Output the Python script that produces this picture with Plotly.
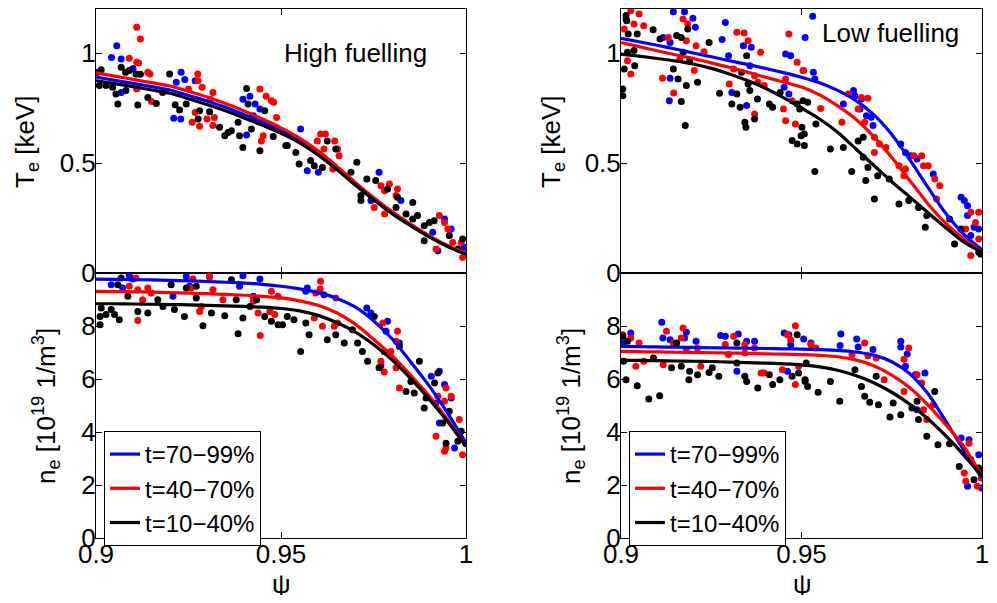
import plotly.graph_objects as go

# ---------------- data ----------------
FIT_PSI = [0.900, 0.905, 0.910, 0.915, 0.920, 0.925, 0.930, 0.935, 0.940, 0.945, 0.950,
           0.955, 0.960, 0.965, 0.970, 0.975, 0.980, 0.985, 0.990, 0.995, 1.000]

# High fuelling, Te fits [keV]
HF_TE_FIT_BLUE = [.89, .876, .862, .847, .832, .807, .782, .753, .72, .685, .647, .602, .546, .48, .408, .339, .276, .22, .168, .124, .09]
HF_TE_FIT_RED = [.91, .895, .88, .865, .85, .826, .80, .77, .737, .70, .66, .613, .555, .487, .413, .343, .279, .222, .17, .125, .09]
HF_TE_FIT_BLACK = [.874, .861, .847, .832, .817, .792, .766, .737, .705, .671, .635, .592, .537, .472, .401, .333, .27, .215, .164, .12, .085]
# Low fuelling, Te fits
LF_TE_FIT_BLUE = [1.067, 1.051, 1.035, 1.018, 1.0, .983, .965, .948, .93, .911, .89, .865, .83, .785, .72, .63, .515, .39, .27, .175, .105]
LF_TE_FIT_RED = [1.048, 1.029, 1.01, .992, .975, .955, .935, .913, .89, .868, .845, .81, .76, .70, .62, .525, .42, .315, .225, .155, .095]
LF_TE_FIT_BLACK = [.995, .986, .975, .964, .95, .93, .905, .875, .84, .797, .75, .70, .64, .565, .49, .415, .345, .275, .205, .14, .094]
# High fuelling, ne fits [1e19 m^-3]
HF_NE_FIT_BLUE = [9.77, 9.76, 9.75, 9.74, 9.72, 9.7, 9.68, 9.65, 9.62, 9.57, 9.5, 9.4, 9.26, 9.05, 8.72, 8.2, 7.52, 6.65, 5.75, 4.72, 3.58]
HF_NE_FIT_RED = [9.31, 9.3, 9.29, 9.28, 9.26, 9.24, 9.22, 9.19, 9.16, 9.12, 9.06, 8.95, 8.78, 8.5, 8.08, 7.5, 6.88, 6.15, 5.37, 4.47, 3.46]
HF_NE_FIT_BLACK = [8.84, 8.84, 8.83, 8.82, 8.81, 8.8, 8.78, 8.76, 8.74, 8.71, 8.66, 8.57, 8.4, 8.13, 7.78, 7.3, 6.72, 6.02, 5.25, 4.4, 3.46]
# Low fuelling, ne fits
LF_NE_FIT_BLUE = [7.23, 7.22, 7.21, 7.2, 7.19, 7.18, 7.17, 7.16, 7.15, 7.14, 7.13, 7.11, 7.08, 7.02, 6.9, 6.65, 6.2, 5.45, 4.4, 3.3, 2.26]
LF_NE_FIT_RED = [7.04, 7.03, 7.02, 7.01, 7.0, 6.99, 6.98, 6.965, 6.95, 6.935, 6.92, 6.89, 6.84, 6.72, 6.5, 6.15, 5.67, 5.02, 4.27, 3.45, 2.33]
LF_NE_FIT_BLACK = [6.7, 6.7, 6.69, 6.68, 6.67, 6.66, 6.64, 6.62, 6.6, 6.57, 6.53, 6.46, 6.33, 6.13, 5.86, 5.5, 5.05, 4.5, 3.85, 3.12, 2.33]

# measured points (psi, value)
HF_TE_PTS_BLUE = [(.9056, 1.033), (.9042, .979), (.9068, .973), (.910, .93), (.9068, .821), (.923, .912), (.924, .879),
                  (.9217, .867), (.921, .703), (.9229, .70), (.9268, .874), (.9397, .79), (.9416, .803), (.9425, .715),
                  (.9443, .745), (.9407, .627), (.943, .768), (.9553, .655), (.9571, .465), (.9601, .458), (.9765, .458),
                  (.9743, .329), (.9824, .329), (.9924, .101), (.9942, .245), (.996, .20), (.991, .185), (.9996, .117)]
HF_TE_PTS_RED = [(.911, 1.117), (.912, 1.064), (.909, .976), (.911, .958), (.9115, .955), (.914, .912), (.9146, .905),
                 (.915, .779), (.911, .836), (.9275, .905), (.9276, .874), (.9287, .844), (.925, .836), (.9268, .73),
                 (.926, .685), (.928, .667), (.930, .70), (.9316, .821), (.931, .79), (.9316, .67), (.932, .707),
                 (.9443, .836), (.946, .803), (.9474, .783), (.948, .776), (.9488, .707), (.9447, .60), (.9452, .624),
                 (.9607, .632), (.962, .632), (.9645, .60), (.9653, .564), (.9657, .533), (.9616, .564), (.9598, .60),
                 (.964, .473), (.977, .397), (.978, .374), (.9793, .405), (.9815, .382), (.9811, .352), (.978, .268),
                 (.9752, .298), (.9928, .261), (.9942, .23), (.9951, .20), (.9919, .109), (.9987, .139), (.9991, .071),
                 (.9964, .139)]
HF_TE_PTS_BLACK = [(.9014, .924), (.9005, .912), (.9009, .852), (.9027, .852), (.9045, .844), (.9054, .814), (.9059, .768),
                   (.9068, .935), (.908, .912), (.909, .92), (.9108, .905), (.912, .903), (.9081, .829), (.9113, .764),
                   (.914, .798), (.9163, .771), (.9199, .905), (.918, .821), (.9214, .765), (.9226, .741), (.9244, .768),
                   (.9276, .70), (.928, .738), (.9307, .733), (.9334, .662), (.9348, .624), (.9357, .639), (.9366, .647),
                   (.9388, .624), (.9397, .571), (.9407, .839), (.9411, .768), (.9443, .556), (.9456, .738), (.9479, .62),
                   (.942, .655), (.9384, .685), (.9513, .579), (.9517, .579), (.954, .548), (.9549, .495), (.958, .511),
                   (.959, .488), (.9612, .48), (.9625, .60), (.9648, .564), (.9689, .458), (.9705, .503), (.9716, .352),
                   (.9716, .329), (.9732, .427), (.9756, .42), (.9788, .382), (.9815, .344), (.9811, .298), (.9838, .268),
                   (.9856, .321), (.9856, .245), (.9869, .261), (.9887, .215), (.9887, .147), (.9901, .23), (.9914, .238),
                   (.9955, .17), (.9991, .155), (.9978, .109)]

LF_TE_PTS_BLUE = [(.9145, 1.188), (.9176, 1.188), (.9199, 1.158), (.9206, 1.117), (.9014, 1.155), (.9289, 1.139),
                  (.928, 1.061), (.9117, 1.071), (.9136, 1.048), (.9136, .885), (.9134, .783), (.9339, 1.033),
                  (.9361, 1.026), (.9298, .988), (.9357, .942), (.9307, .821), (.9348, .761), (.9456, .995),
                  (.947, .988), (.951, 1.071), (.9452, .844), (.9465, .814), (.9531, 1.167), (.9533, .912),
                  (.9537, .882), (.9644, .829), (.9648, .806), (.9616, .768), (.9662, .745), (.9666, .791),
                  (.968, .715), (.9693, .708), (.9698, .67), (.9775, .586), (.9788, .548), (.9802, .533), (.982, .518),
                  (.9865, .45), (.9942, .344), (.9951, .329), (.996, .306), (.996, .261), (.9991, .20), (.9978, .208),
                  (.9969, .17)]
LF_TE_PTS_RED = [(.9027, 1.192), (.905, 1.177), (.9036, 1.132), (.9063, 1.124), (.9009, 1.109), (.9027, .905),
                 (.9018, .965), (.9131, 1.071), (.9181, 1.056), (.9172, 1.155), (.9185, 1.132), (.9208, 1.033),
                 (.9115, .885), (.9146, .818), (.9163, .973), (.9203, .92), (.923, 1.006), (.9321, 1.094),
                 (.9341, 1.091), (.9352, 1.056), (.9387, 1.003), (.937, .897), (.930, .859), (.9312, .927),
                 (.9379, .867), (.9397, .852), (.937, .723), (.9465, 1.086), (.9488, .958), (.9506, .92), (.9456, .882),
                 (.945, .745), (.9456, .692), (.9483, .677), (.9474, .783), (.9504, .92), (.9553, .748), (.9612, .685),
                 (.963, .814), (.9666, .798), (.9684, .794), (.9657, .745), (.9675, .685), (.9702, .617), (.9716, .586),
                 (.9734, .571), (.9702, .548), (.977, .488), (.9788, .473), (.9784, .442), (.9811, .533), (.9833, .533),
                 (.9838, .488), (.9851, .488), (.9869, .427), (.9883, .397), (.9874, .336), (.9969, .276), (.9991, .276),
                 (.9982, .23), (.9969, .079), (.9991, .155), (.9955, .20)]
LF_TE_PTS_BLACK = [(.9014, 1.17), (.9016, 1.147), (.902, 1.086), (.9045, 1.086), (.9089, 1.106), (.9036, 1.011),
                   (.9018, 1.003), (.9038, .942), (.9009, .927), (.9005, .836), (.9005, .806), (.9108, 1.064),
                   (.9154, 1.079), (.9167, 1.071), (.9185, 1.109), (.9172, 1.003), (.919, .965), (.9145, .927),
                   (.9158, .882), (.9181, .852), (.9167, .779), (.9212, .867), (.9178, .67), (.9244, 1.048),
                   (.9273, .817), (.9307, .768), (.9321, .814), (.9334, .912), (.9348, .988), (.9352, .859),
                   (.9357, .829), (.933, .753), (.9343, .685), (.9346, .662), (.937, .70), (.9378, .791), (.9411, .768),
                   (.942, .753), (.9441, .821), (.9488, .768), (.9495, .745), (.9499, .624), (.9474, .602),
                   (.9488, .586), (.9508, .579), (.9501, .662), (.9504, .783), (.9517, .776), (.9508, .632),
                   (.9537, .461), (.954, .677), (.958, .564), (.9616, .571), (.9639, .461), (.9657, .60), (.9671, .617),
                   (.9671, .526), (.9684, .48), (.9678, .42), (.9702, .336), (.9711, .442), (.9743, .427), (.977, .314),
                   (.9797, .329), (.9824, .298), (.9847, .261), (.9843, .208), (.991, .245), (.9924, .132), (.9942, .20),
                   (.9991, .094), (.9996, .086)]

HF_NE_PTS_BLUE = [(.9041, 9.56), (.909, 9.9), (.9099, 9.77), (.9072, 9.43), (.9244, 9.87), (.9253, 9.5), (.9307, 9.85),
                  (.9397, 9.9), (.9388, 9.5), (.9443, 9.77), (.9425, 9.12), (.9208, 9.12), (.9571, 9.43), (.9567, 9.31),
                  (.9616, 9.18), (.9732, 8.68), (.9743, 8.49), (.9788, 8.18), (.9784, 7.8), (.982, 7.36), (.977, 6.5),
                  (.9906, 6.1), (.9928, 6.29), (.9919, 5.09), (.9928, 4.34), (.9942, 5.79), (.996, 5.28),
                  (.9969, 3.4), (.9999, 3.58)]
HF_NE_PTS_RED = [(.9108, 9.81), (.9113, 9.37), (.909, 9.5), (.914, 9.43), (.9149, 9.25), (.9126, 8.99), (.9113, 8.21),
                 (.9262, 9.77), (.9257, 9.43), (.928, 8.55), (.9285, 8.74), (.9316, 9.37), (.9307, 9.87), (.9343, 8.99),
                 (.9425, 8.93), (.9438, 8.49), (.947, 8.55), (.9483, 8.43), (.9444, 7.64), (.9474, 9.31), (.9492, 9.12),
                 (.9607, 9.69), (.9606, 9.4), (.9594, 9.25), (.959, 8.3), (.9612, 7.99), (.9648, 9.06), (.9644, 7.99),
                 (.9653, 8.11), (.9775, 8.11), (.9815, 7.8), (.9811, 7.42), (.9797, 7.04), (.977, 6.67), (.9779, 6.26),
                 (.9811, 6.42), (.982, 5.66), (.9946, 5.66), (.9924, 5.35), (.9942, 5.16), (.996, 5.35), (.9919, 3.84),
                 (.9946, 3.4), (.9942, 3.27), (.9982, 4.47), (.9991, 3.14)]
HF_NE_PTS_BLACK = [(.9014, 8.68), (.9011, 8.36), (.9011, 8.05), (.9027, 8.43), (.9041, 8.62), (.905, 8.43), (.9063, 8.24),
                   (.9059, 9.56), (.9068, 9.81), (.9086, 9.12), (.9113, 8.55), (.914, 8.49), (.9167, 8.99), (.9181, 8.74),
                   (.9212, 8.62), (.9203, 9.56), (.9244, 9.43), (.9239, 8.36), (.9271, 9.5), (.9271, 9.06),
                   (.9289, 8.01), (.9312, 8.49), (.9348, 8.39), (.9366, 9.75), (.9379, 8.99), (.9397, 8.3),
                   (.9384, 7.71), (.9416, 8.74), (.9434, 8.99), (.9456, 8.36), (.9474, 8.18), (.9492, 8.05),
                   (.9504, 8.05), (.9517, 8.36), (.9535, 8.24), (.9553, 7.04), (.9567, 8.11), (.9576, 7.67),
                   (.9625, 7.48), (.9648, 7.67), (.9671, 7.36), (.9693, 7.86), (.9707, 7.36), (.972, 7.04),
                   (.9734, 6.67), (.9752, 8.36), (.9765, 6.42), (.9779, 7.04), (.982, 7.23), (.9851, 5.91),
                   (.9838, 5.53), (.986, 5.47), (.9874, 6.67), (.9887, 4.91), (.9892, 5.28), (.9915, 5.85),
                   (.9924, 6.23), (.9937, 4.34), (.9955, 4.78), (.9946, 3.58), (.9987, 4.03), (.9978, 3.65)]

LF_NE_PTS_BLUE = [(.9113, 8.14), (.9116, 7.55), (.9027, 7.74), (.9005, 7.36), (.9136, 7.48), (.9181, 7.76), (.9176, 7.55),
                  (.9208, 7.42), (.9276, 7.64), (.9289, 7.61), (.9325, 7.7), (.9348, 7.42), (.937, 7.42), (.9321, 6.29),
                  (.9452, 7.74), (.9465, 7.67), (.947, 7.3), (.9461, 6.29), (.9506, 7.51), (.9526, 7.36), (.9609, 7.7),
                  (.9607, 7.26), (.9653, 7.51), (.9657, 7.21), (.9698, 7.11), (.9775, 7.42), (.9775, 7.21),
                  (.9793, 6.94), (.9788, 6.48), (.9815, 6.16), (.9842, 6.23), (.982, 4.84), (.9942, 3.77),
                  (.9964, 3.71), (.9991, 3.14), (.9969, 2.96), (.996, 1.95), (.9999, 1.89)]
LF_NE_PTS_RED = [(.9005, 7.67), (.9027, 7.55), (.905, 7.36), (.9041, 6.48), (.9063, 6.67), (.9126, 7.8), (.9145, 7.36),
                 (.9172, 7.92), (.9167, 7.55), (.9181, 7.1), (.9117, 6.54), (.9212, 7.17), (.9221, 6.48), (.9289, 7.3),
                 (.9312, 7.61), (.9298, 6.92), (.9343, 7.3), (.9343, 6.98), (.937, 7.17), (.9388, 6.23), (.9397, 6.23),
                 (.9483, 8.01), (.947, 7.48), (.9461, 7.67), (.9447, 6.35), (.9483, 5.79), (.9492, 6.48), (.9526, 7.3),
                 (.954, 7.17), (.9675, 7.36), (.964, 6.92), (.9684, 6.88), (.9707, 6.79), (.9729, 5.97), (.9784, 6.75),
                 (.9797, 7.17), (.9784, 5.53), (.982, 6.16), (.9833, 5.85), (.9838, 4.84), (.9847, 4.47),
                 (.9865, 5.03), (.9964, 3.58), (.9951, 2.45), (.9955, 2.14), (.9987, 1.95), (.9998, 2.26)]
LF_NE_PTS_BLACK = [(.9005, 7.61), (.9018, 7.42), (.9007, 6.67), (.9014, 5.97), (.9045, 5.75), (.9077, 5.25), (.9107, 5.37),
                   (.909, 6.79), (.914, 6.42), (.9154, 7.36), (.9167, 6.48), (.919, 6.29), (.9188, 5.97), (.9212, 6.16),
                   (.9244, 6.25), (.9253, 6.42), (.9271, 6.1), (.9321, 7.36), (.9321, 6.6), (.9343, 6.1), (.9348, 5.91),
                   (.9379, 5.66), (.9411, 6.16), (.942, 5.79), (.944, 5.97), (.9488, 7.67), (.9474, 6.1), (.9492, 6.23),
                   (.951, 5.91), (.9513, 6.6), (.951, 5.97), (.9517, 5.72), (.9546, 5.5), (.958, 5.91), (.9606, 5.16),
                   (.9648, 6.35), (.9666, 5.72), (.9675, 5.35), (.9689, 5.12), (.9707, 6.1), (.9713, 5.03),
                   (.9745, 4.57), (.9754, 5.09), (.9775, 4.65), (.9806, 4.91), (.982, 5.16), (.9824, 4.47),
                   (.9847, 3.84), (.9869, 5.53), (.9878, 3.52), (.991, 3.56), (.9937, 2.7), (.9991, 2.64),
                   (.9998, 2.45), (.9978, 2.2)]

LEGEND_LABELS = ["t=70\u221299%", "t=40\u221270%", "t=10\u221240%"]
COLORS = ["#0000ff", "#ff0000", "#000000"]
TE_TICKS = [0, 0.5, 1]
NE_TICKS = [0, 2, 4, 6, 8]
PSI_TICKS = [0.9, 0.95, 1.0]
PSI_TICKTEXT = ["0.9", "0.95", "1"]

# the page body has an 8px margin on every side: keep the figure inside the window
OFF = 8
W, H = 997 - 2 * OFF, 603 - 2 * OFF
FONT = "Liberation Sans, Arial, Helvetica, sans-serif"
FS = 26

fig = go.Figure()

panels = [
    ("x", "y", [HF_TE_PTS_BLUE, HF_TE_PTS_RED, HF_TE_PTS_BLACK], [HF_TE_FIT_BLUE, HF_TE_FIT_RED, HF_TE_FIT_BLACK], None),
    ("x2", "y2", [HF_NE_PTS_BLUE, HF_NE_PTS_RED, HF_NE_PTS_BLACK], [HF_NE_FIT_BLUE, HF_NE_FIT_RED, HF_NE_FIT_BLACK], "legend"),
    ("x3", "y3", [LF_TE_PTS_BLUE, LF_TE_PTS_RED, LF_TE_PTS_BLACK], [LF_TE_FIT_BLUE, LF_TE_FIT_RED, LF_TE_FIT_BLACK], None),
    ("x4", "y4", [LF_NE_PTS_BLUE, LF_NE_PTS_RED, LF_NE_PTS_BLACK], [LF_NE_FIT_BLUE, LF_NE_FIT_RED, LF_NE_FIT_BLACK], "legend2"),
]

for xa, ya, pts, fits, leg in panels:
    for p, c in zip(pts, COLORS):
        fig.add_trace(go.Scatter(x=[q[0] for q in p], y=[q[1] for q in p], mode="markers",
                                 marker=dict(color=c, size=7, line=dict(width=0)),
                                 xaxis=xa, yaxis=ya, showlegend=False, hoverinfo="skip"))
    for f, c, lab in zip(fits, COLORS, LEGEND_LABELS):
        kw = dict(showlegend=leg is not None, name=lab)
        if leg:
            kw["legend"] = leg
        fig.add_trace(go.Scatter(x=FIT_PSI, y=f, mode="lines",
                                 line=dict(color=c, width=3.2, shape="spline", smoothing=0.8),
                                 xaxis=xa, yaxis=ya, **kw))


def px_x(p):
    return min(1.0, max(0.0, (p - OFF) / W))


def px_y(p):
    return min(1.0, max(0.0, 1 - (p - OFF) / H))


LX = [px_x(96), px_x(466)]
RX = [px_x(621), px_x(982)]
TY = [px_y(273), px_y(9)]
BY = [px_y(538), px_y(273)]

common = dict(showline=True, linecolor="black", linewidth=1, mirror="ticks", ticks="inside", ticklen=6,
              tickcolor="black", tickwidth=1, showgrid=False, zeroline=False, automargin=False,
              ticklabeloverflow="allow", tickfont=dict(family=FONT, size=FS, color="black"))


def xax(dom, anchor, labels):
    return dict(common, domain=dom, anchor=anchor, range=[0.9, 1.0], tickvals=PSI_TICKS, ticktext=PSI_TICKTEXT,
                showticklabels=labels, ticklabelstandoff=-7)


def yax(dom, anchor, rng, ticks):
    return dict(common, domain=dom, anchor=anchor, range=rng, tickvals=ticks,
                ticktext=[("%g" % t) for t in ticks], ticklabelstandoff=-6)


leg_common = dict(bgcolor="white", bordercolor="black", borderwidth=1, xanchor="left", yanchor="top",
                  font=dict(family=FONT, size=24, color="black"), itemwidth=30, tracegroupgap=0)

fig.update_layout(
    width=W, height=H, margin=dict(l=0, r=0, t=0, b=0), paper_bgcolor="white", plot_bgcolor="white",
    font=dict(family=FONT, size=FS, color="black"),
    xaxis=xax(LX, "y", False), yaxis=yax(TY, "x", [0, 1.2], TE_TICKS),
    xaxis2=xax(LX, "y2", True), yaxis2=yax(BY, "x2", [0, 10], NE_TICKS),
    xaxis3=xax(RX, "y3", False), yaxis3=yax(TY, "x3", [0, 1.2], TE_TICKS),
    xaxis4=xax(RX, "y4", True), yaxis4=yax(BY, "x4", [0, 10], NE_TICKS),
    legend=dict(leg_common, x=px_x(104), y=px_y(431)),
    legend2=dict(leg_common, x=px_x(629), y=px_y(431)),
)

ann = [
    dict(text="High fuelling", x=px_x(355), y=px_y(53)),
    dict(text="Low fuelling", x=px_x(890), y=px_y(33)),
    dict(text="\u03c8", x=px_x(281), y=px_y(584)),
    dict(text="\u03c8", x=px_x(802), y=px_y(584)),
    dict(text="T<sub>e</sub> [keV]", x=px_x(27), y=px_y(142), textangle=-90),
    dict(text="T<sub>e</sub> [keV]", x=px_x(553), y=px_y(142), textangle=-90),
    dict(text="n<sub>e</sub> [10<sup>19</sup> 1/m<sup>3</sup>]", x=px_x(46), y=px_y(406), textangle=-90),
    dict(text="n<sub>e</sub> [10<sup>19</sup> 1/m<sup>3</sup>]", x=px_x(571), y=px_y(406), textangle=-90),
]
for a in ann:
    fig.add_annotation(xref="paper", yref="paper", showarrow=False, xanchor="center", yanchor="middle",
                       font=dict(family=FONT, size=FS, color="black"), **a)

fig.write_html("out.html")
